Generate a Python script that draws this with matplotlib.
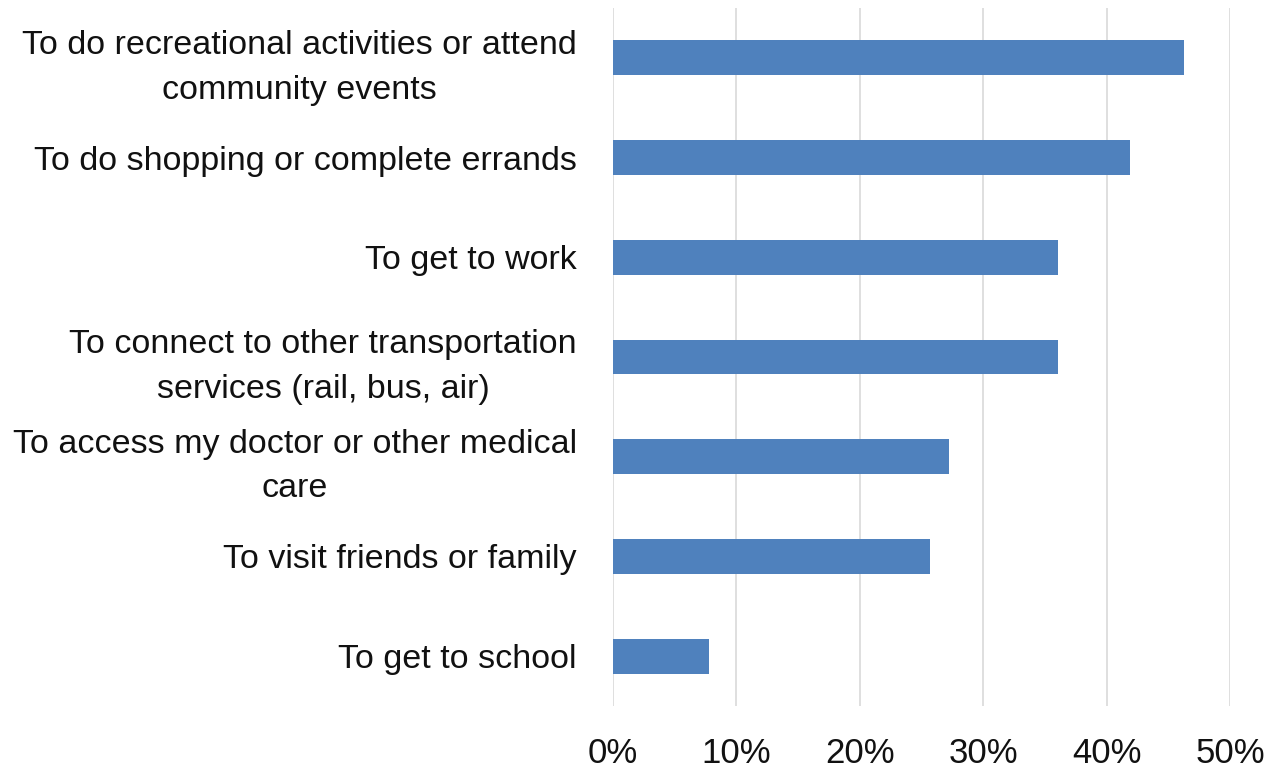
import matplotlib.pyplot as plt
from matplotlib.ticker import FuncFormatter

# trip purposes, top to bottom
purposes = [
    'To do recreational activities or attend\ncommunity events',
    'To do shopping or complete errands',
    'To get to work',
    'To connect to other transportation\nservices (rail, bus, air)',
    'To access my doctor or other medical\ncare',
    'To visit friends or family',
    'To get to school',
]
shares = [46.3, 41.9, 36.1, 36.1, 27.2, 25.7, 7.8]
x_ticks = [0, 10, 20, 30, 40, 50]

plt.rcParams['font.family'] = ['Liberation Sans', 'DejaVu Sans']

fig = plt.figure(figsize=(12.84, 7.71), dpi=100)
ax = fig.add_axes([613 / 1284, 1 - 706 / 771, 617 / 1284, 698 / 771])

pos = list(range(len(purposes)))
ax.barh(pos, shares, height=0.35, color='#4F81BD', zorder=3)
ax.set_ylim(len(purposes) - 0.5, -0.5)
ax.set_xlim(0, 50)
ax.set_xticks(x_ticks)
ax.xaxis.set_major_formatter(FuncFormatter(lambda v, p: '%d%%' % v))
ax.grid(axis='x', color='#D9D9D9', linewidth=1.2, zorder=0)

ax.set_yticks(pos)
ax.set_yticklabels(purposes, fontsize=24.5, color='#111111')
for lab in ax.get_yticklabels():
    lab.set_multialignment('center')
    lab.set_linespacing(1.55)
for lab in ax.get_xticklabels():
    lab.set_fontsize(25)
    lab.set_color('#111111')

ax.tick_params(axis='y', length=0, pad=26)
ax.tick_params(axis='x', length=0, pad=22)
for s in ax.spines.values():
    s.set_visible(False)

fig.savefig('out.png', dpi=100, facecolor='white')
